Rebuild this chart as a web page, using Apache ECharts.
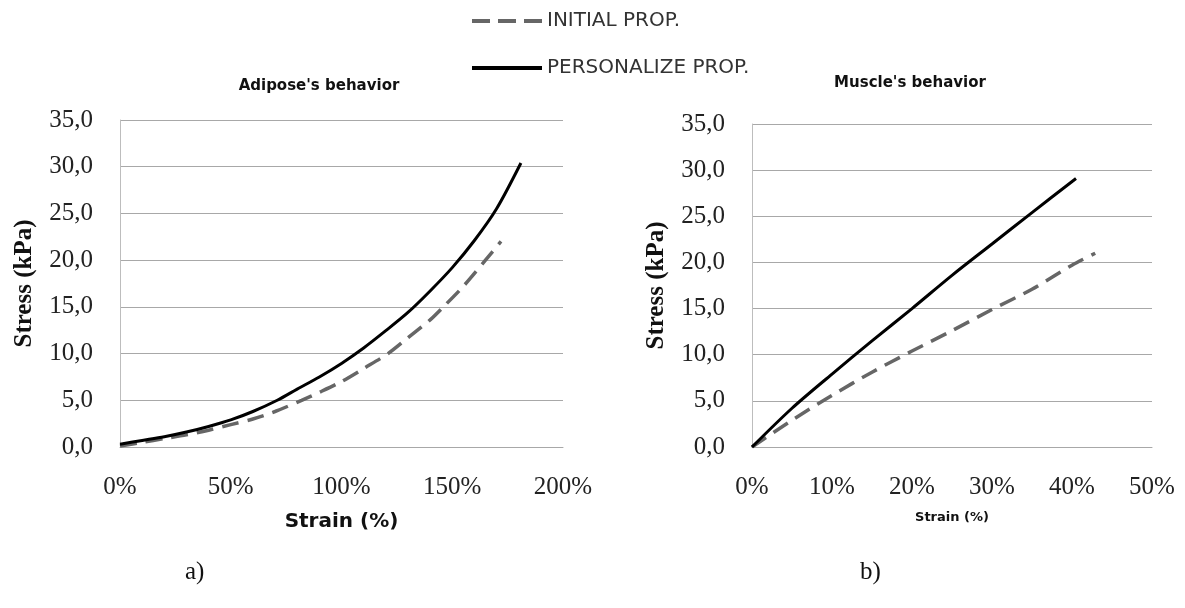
<!DOCTYPE html>
<html>
<head>
<meta charset="utf-8">
<script src="https://cdn.jsdelivr.net/npm/echarts@6/dist/echarts.min.js"></script>
<style>
html,body{margin:0;padding:0;background:#fff;}
#chart{width:1185px;height:608px;}
</style>
</head>
<body>
<div id="chart"></div>
<script>
// ---- Data ----
const seriesNames = ['INITIAL PROP.', 'PERSONALIZE PROP.'];
const chartTitles = ["Adipose's behavior", "Muscle's behavior"];
const panelLabels = ['a)', 'b)'];

// Adipose (strain in %, stress in kPa)
const adiposeInitialStrain = [0, 10, 20, 30, 40, 50, 60, 70, 82, 90, 100, 110, 121, 130, 140, 146, 155, 165, 172];
const adiposeInitialStress = [0.1, 0.5, 0.9, 1.3, 1.8, 2.4, 3.0, 3.8, 5.0, 5.85, 7.0, 8.4, 10.0, 11.7, 13.6, 15.0, 17.2, 20.0, 22.0];
const adiposePersonalStrain = [0, 10, 20, 30, 40, 50, 60, 71, 80, 90, 100, 110, 120, 130, 140, 150, 160, 170, 181];
const adiposePersonalStress = [0.3, 0.7, 1.1, 1.6, 2.2, 2.9, 3.8, 5.0, 6.2, 7.5, 8.95, 10.6, 12.45, 14.4, 16.7, 19.2, 22.1, 25.5, 30.4];

// Muscle
const muscleInitialStrain = [0, 5, 10, 15, 20, 25, 30, 35, 40, 42.9];
const muscleInitialStress = [0, 2.9, 5.6, 8.1, 10.4, 12.6, 14.9, 17.1, 19.7, 21.0];
const musclePersonalStrain = [0, 5, 10, 15, 20, 25, 30, 35, 40.5];
const musclePersonalStress = [0, 4.2, 7.9, 11.5, 15.0, 18.6, 22.0, 25.4, 29.1];

// Axis ranges / ticks
const stressTicks = {min: 0, max: 35, interval: 5};
const adiposeStrainTicks = {min: 0, max: 200, interval: 50};
const muscleStrainTicks = {min: 0, max: 50, interval: 10};
const xAxisName = 'Strain (%)';
const yAxisName = 'Stress (kPa)';

function pairs(xs, ys) { return xs.map((x, i) => [x, ys[i]]); }

const serif = '"Liberation Serif", "Times New Roman", serif';
const sans = '"DejaVu Sans", sans-serif';
const gridColor = '#a8a8a8';

function yAxis(gridIndex, nameGap) {
  return {
    type: 'value', gridIndex,
    min: stressTicks.min, max: stressTicks.max, interval: stressTicks.interval,
    name: yAxisName, nameLocation: 'middle', nameGap: nameGap, nameRotate: 90,
    nameTextStyle: {fontFamily: serif, fontWeight: 'bold', fontSize: 25, color: '#111'},
    axisLine: {show: true, lineStyle: {color: '#bdbdbd', width: 1}},
    axisTick: {show: false},
    splitLine: {show: true, lineStyle: {color: gridColor, width: 1}},
    axisLabel: {
      fontFamily: serif, fontSize: 25, color: '#222', margin: 27,
      formatter: v => v.toFixed(1).replace('.', ',')
    }
  };
}
function xAxis(gridIndex, ticks, nameSize, nameGap) {
  return {
    type: 'value', gridIndex,
    min: ticks.min, max: ticks.max, interval: ticks.interval,
    name: xAxisName, nameLocation: 'middle', nameGap: nameGap,
    nameTextStyle: {fontFamily: sans, fontWeight: 'bold', fontSize: nameSize, color: '#111'},
    axisLine: {show: true, lineStyle: {color: gridColor, width: 1}},
    axisTick: {show: false},
    splitLine: {show: false},
    axisLabel: {fontFamily: serif, fontSize: 25, color: '#222', margin: 28, formatter: '{value}%'}
  };
}
const dashedStyle = {color: '#666666', width: 3.5, type: [17, 9]};
const solidStyle = {color: '#000000', width: 3};

function line(name, xi, data, style) {
  return {
    name, type: 'line', xAxisIndex: xi, yAxisIndex: xi,
    data, showSymbol: false, symbol: 'none', smooth: 0.3,
    lineStyle: style, itemStyle: {color: style.color}, z: name === seriesNames[1] ? 3 : 2
  };
}

const option = {
  backgroundColor: '#fff',
  animation: false,
  title: [
    {text: chartTitles[0], left: 314, top: 74, textAlign: 'center',
     textStyle: {fontFamily: sans, fontWeight: 'bold', fontSize: 15, color: '#111'}},
    {text: chartTitles[1], left: 905, top: 71, textAlign: 'center',
     textStyle: {fontFamily: sans, fontWeight: 'bold', fontSize: 15, color: '#111'}}
  ],
  legend: {
    orient: 'vertical', left: 467, top: 6,
    itemWidth: 70, itemHeight: 20, itemGap: 27,
    symbolKeepAspect: true,
    data: [
      {name: seriesNames[0], icon: 'path://M0,0h18v4h-18z M26,0h18v4h-18z M52,0h18v4h-18z'},
      {name: seriesNames[1], icon: 'path://M0,0h70v4h-70z'}
    ],
    textStyle: {fontFamily: sans, fontSize: 20, color: '#333', padding: [0, 0, 0, 0]}
  },
  grid: [
    {left: 120, right: 622, top: 120, bottom: 161},
    {left: 752, right: 33, top: 124, bottom: 161}
  ],
  xAxis: [
    xAxis(0, adiposeStrainTicks, 20, 65),
    xAxis(1, muscleStrainTicks, 13, 64)
  ],
  yAxis: [yAxis(0, 83), yAxis(1, 83)],
  series: [
    line(seriesNames[0], 0, pairs(adiposeInitialStrain, adiposeInitialStress), dashedStyle),
    line(seriesNames[1], 0, pairs(adiposePersonalStrain, adiposePersonalStress), solidStyle),
    line(seriesNames[0], 1, pairs(muscleInitialStrain, muscleInitialStress), dashedStyle),
    line(seriesNames[1], 1, pairs(musclePersonalStrain, musclePersonalStress), solidStyle)
  ],
  graphic: [
    {type: 'text', left: 185, top: 560, style: {text: panelLabels[0], font: '25px ' + serif, fill: '#111'}},
    {type: 'text', left: 860, top: 560, style: {text: panelLabels[1], font: '25px ' + serif, fill: '#111'}}
  ]
};

const chart = echarts.init(document.getElementById('chart'), null, {renderer: 'canvas'});
chart.setOption(option);
</script>
</body>
</html>
